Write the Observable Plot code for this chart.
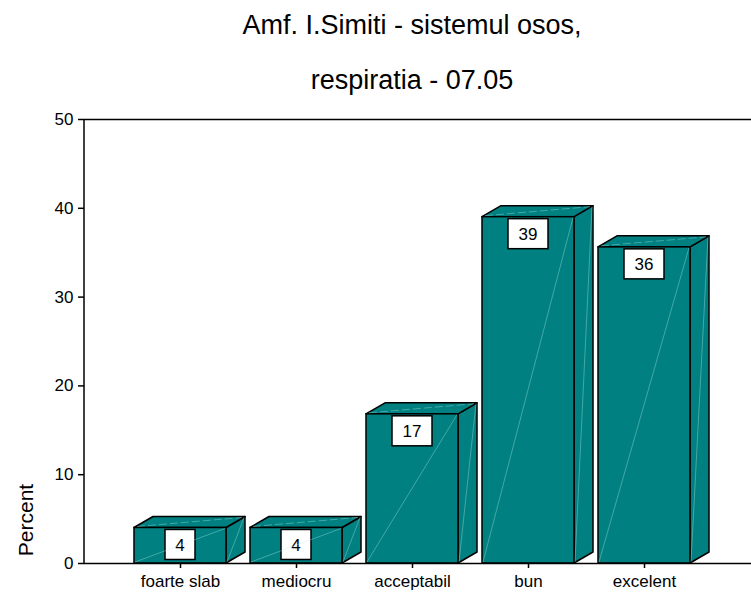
<!DOCTYPE html>
<html><head><meta charset="utf-8">
<script src="https://cdn.jsdelivr.net/npm/d3@7"></script>
<script src="https://cdn.jsdelivr.net/npm/@observablehq/plot@0.6"></script>
<style>body{margin:0;background:#fff} svg{display:block}</style>
</head><body><div id="chart"></div>
<script>
const titleLines = ["Amf. I.Simiti - sistemul osos,", "respiratia - 07.05"];
const categories = ["foarte slab", "mediocru", "acceptabil", "bun", "excelent"];
const percents = [4.0, 4.0, 16.8, 39.0, 35.6];
const valueLabels = ["4", "4", "17", "39", "36"];
const yTicks = [0, 10, 20, 30, 40, 50];
const yLabel = "Percent";

const data = categories.map((c, i) => ({category: c, value: percents[i], label: valueLabels[i]}));

const TEAL = "#008080";
const DX = 19, DY = 11;
const FONT = "'Liberation Sans', Arial, sans-serif";

function faces(index, scales, values, dim) {
  const {x, y} = scales;
  const bw = x.bandwidth();
  const g = d3.create("svg:g").attr("fill", TEAL).attr("stroke", "black")
    .attr("stroke-width", 1.5).attr("stroke-linejoin", "round");
  for (const d of data) {
    const x0 = x(d.category), x1 = x0 + bw, y0 = y(0), y1 = y(d.value);
    g.append("path").attr("d", `M${x1},${y0}L${x1},${y1}L${x1 + DX},${y1 - DY}L${x1 + DX},${y0 - DY}Z`);
    g.append("path").attr("d", `M${x0},${y1}L${x0 + DX},${y1 - DY}L${x1 + DX},${y1 - DY}L${x1},${y1}Z`);
  }
  return g.node();
}

function overlay(index, scales, values, dim) {
  const {x, y} = scales;
  const bw = x.bandwidth();
  const g = d3.create("svg:g").attr("font-family", FONT);
  // left axis line
  g.append("line").attr("x1", dim.marginLeft).attr("x2", dim.marginLeft)
    .attr("y1", y(0)).attr("y2", y(50)).attr("stroke", "black").attr("stroke-width", 1.5);
  for (const d of data) {
    const x0 = x(d.category), x1 = x0 + bw, y0 = y(0), y1 = y(d.value);
    const cx = x0 + bw / 2;
    const w = 20 + 10 * d.label.length, h = 30;
    g.append("rect").attr("x", cx - w / 2).attr("y", y1 + 2).attr("width", w).attr("height", h)
      .attr("fill", "white").attr("stroke", "black").attr("stroke-width", 1.5);
    g.append("text").attr("x", cx).attr("y", y1 + 2 + h / 2).attr("dy", "0.36em")
      .attr("text-anchor", "middle").attr("font-size", 17).attr("fill", "black").text(d.label);
    const diag = g.append("g").attr("stroke", "#bff0f0").attr("stroke-opacity", 0.5).attr("stroke-width", 0.7);
    diag.append("line").attr("x1", x0 + 1).attr("y1", y0 - 1).attr("x2", x1 - 1).attr("y2", y1 + 1);
    diag.append("line").attr("x1", x1 + 1).attr("y1", y0 - 1).attr("x2", x1 + DX - 1).attr("y2", y1 - DY + 1);
    diag.append("line").attr("x1", x0 + 3).attr("y1", y1 - 1).attr("x2", x1 + DX - 3).attr("y2", y1 - DY + 1)
      .attr("stroke-dasharray", "8,3");
  }
  // y label
  g.append("text").attr("transform", `translate(33,${y(0) - 43}) rotate(-90)`)
    .attr("text-anchor", "middle").attr("font-size", 21).attr("fill", "black").text(yLabel);
  // title
  g.append("text").attr("x", 412).attr("y", 34).attr("text-anchor", "middle")
    .attr("font-size", 27).attr("fill", "black").text(titleLines[0]);
  g.append("text").attr("x", 412).attr("y", 89).attr("text-anchor", "middle")
    .attr("font-size", 27).attr("fill", "black").text(titleLines[1]);
  return g.node();
}

const chart = Plot.plot({
  width: 751,
  height: 592,
  marginTop: 119,
  marginBottom: 29,
  marginLeft: 84,
  marginRight: 0,
  style: {fontFamily: FONT, fontSize: "17px", color: "black", background: "white"},
  x: {domain: categories, paddingInner: 0.21, paddingOuter: 0.456, align: 0.45, label: null},
  y: {domain: [0, 50], label: null},
  marks: [
    faces,
    Plot.barY(data, {x: "category", y: "value", fill: TEAL, stroke: "black", strokeWidth: 1.5}),
    Plot.ruleY([0, 50], {stroke: "black", strokeWidth: 1.5}),
    Plot.axisY({ticks: yTicks, tickSize: 6, tickPadding: 5, label: null, strokeWidth: 1.5}),
    Plot.axisX({tickSize: 5, tickPadding: 6, label: null, strokeWidth: 1.5}),
    overlay
  ]
});
document.getElementById("chart").appendChild(chart);
</script>
</body></html>
